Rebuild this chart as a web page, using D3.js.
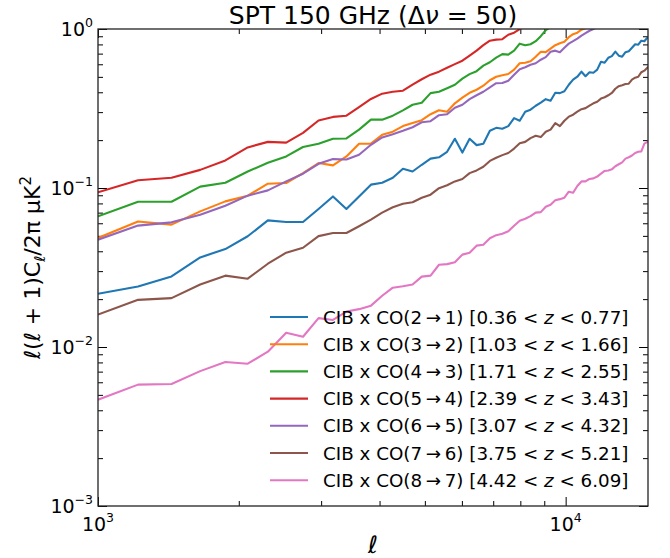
<!DOCTYPE html>
<html>
<head>
<meta charset="utf-8">
<script src="https://cdn.jsdelivr.net/npm/d3@7"></script>
<style>
  body { margin: 0; background: #fff; }
  svg text { font-family: "DejaVu Sans", sans-serif; fill: #000; }
</style>
</head>
<body>
<div id="chart"></div>
<script>
// multipole bins
const ell = [1000, 1218, 1436, 1654, 1872, 2090, 2308, 2526, 2744, 2962, 3180, 3398, 3616, 3834, 4052,
  4270, 4488, 4706, 4924, 5142, 5360, 5578, 5796, 6014, 6232, 6450, 6668, 6886, 7104, 7322, 7540,
  7758, 7976, 8194, 8412, 8630, 8848, 9066, 9284, 9502, 9720, 9938, 10156, 10374, 10592, 10810,
  11028, 11246, 11464, 11682, 11900, 12118, 12336, 12554, 12772, 12990, 13208, 13426, 13644,
  13862, 14080, 14298, 14516, 14734, 14952, 15170];

// l(l+1)C_l/2pi per CO line (curves that leave the top of the frame stop there)
const co21 = [0.0216, 0.0240, 0.0278, 0.0366, 0.0413, 0.0497, 0.0626, 0.0611, 0.0611, 0.0738, 0.0885, 0.0738, 0.0885, 0.105, 0.108,
  0.116, 0.132, 0.127, 0.140, 0.153, 0.156, 0.169, 0.204, 0.167, 0.204, 0.186, 0.190, 0.229, 0.239, 0.236, 0.245, 0.275, 0.265, 0.302,
  0.311, 0.329, 0.344, 0.362, 0.354, 0.397, 0.395, 0.406, 0.446, 0.480, 0.501, 0.539, 0.505, 0.535, 0.531, 0.555, 0.622, 0.614,
  0.659, 0.675, 0.720, 0.680, 0.670, 0.715, 0.725, 0.762, 0.802, 0.797, 0.844, 0.838, 0.881, 0.908];
const co32 = [0.0485, 0.0616, 0.0588, 0.0713, 0.0824, 0.0895, 0.1064, 0.1075, 0.124, 0.1436, 0.1387, 0.158, 0.190, 0.190, 0.216,
  0.226, 0.245, 0.256, 0.267, 0.291, 0.308, 0.302, 0.341, 0.370, 0.397, 0.415, 0.440, 0.476, 0.501, 0.512, 0.521, 0.555, 0.609,
  0.614, 0.627, 0.669, 0.720, 0.715, 0.752, 0.791, 0.814, 0.832, 0.888, 0.928, 0.948, 0.990, 1.01, 1.06];
const co43 = [0.0663, 0.082, 0.082, 0.102, 0.108, 0.127, 0.144, 0.158, 0.181, 0.190, 0.204, 0.205, 0.233, 0.269, 0.269,
  0.285, 0.308, 0.334, 0.344, 0.395, 0.403, 0.424, 0.446, 0.487, 0.520, 0.543, 0.588, 0.618, 0.660, 0.695, 0.690, 0.731, 0.809,
  0.791, 0.802, 0.838, 0.901, 0.982, 1.03];
const co54 = [0.094, 0.112, 0.116, 0.130, 0.149, 0.180, 0.195, 0.193, 0.222, 0.266, 0.280, 0.285, 0.323, 0.363, 0.392,
  0.403, 0.409, 0.447, 0.483, 0.516, 0.539, 0.571, 0.601, 0.632, 0.680, 0.731, 0.791, 0.844, 0.857, 0.863, 0.920, 0.948, 0.997, 1.05];
const co65 = [0.0473, 0.058, 0.0608, 0.0679, 0.0774, 0.0895, 0.0966, 0.110, 0.123, 0.142, 0.152, 0.151, 0.162, 0.187, 0.208,
  0.218, 0.229, 0.241, 0.259, 0.263, 0.287, 0.291, 0.320, 0.334, 0.362, 0.383, 0.403, 0.430, 0.456, 0.457, 0.473, 0.516, 0.559,
  0.575, 0.596, 0.609, 0.641, 0.665, 0.720, 0.731, 0.715, 0.762, 0.809, 0.838, 0.869, 0.908, 0.941, 0.975, 1.00, 1.03];
const co76 = [0.0160, 0.0198, 0.0203, 0.0247, 0.0281, 0.0269, 0.0334, 0.0392, 0.0421, 0.0498, 0.0521, 0.0521, 0.0575, 0.0632, 0.070,
  0.0757, 0.0796, 0.0814, 0.0869, 0.0908, 0.0998, 0.104, 0.110, 0.114, 0.124, 0.129, 0.136, 0.148, 0.155, 0.161, 0.166, 0.177,
  0.191, 0.195, 0.206, 0.213, 0.209, 0.226, 0.233, 0.256, 0.245, 0.265, 0.281, 0.289, 0.302, 0.313, 0.318, 0.330, 0.341, 0.349,
  0.365, 0.372, 0.383, 0.396, 0.421, 0.437, 0.443, 0.451, 0.453, 0.480, 0.494, 0.501, 0.535, 0.547, 0.571, 0.588];
const co87 = [0.00466, 0.0058, 0.00585, 0.00705, 0.00805, 0.00785, 0.00934, 0.0123, 0.0116, 0.0152, 0.0148, 0.0167, 0.0173, 0.0182, 0.0210,
  0.0236, 0.0241, 0.0247, 0.0277, 0.0281, 0.0329, 0.0332, 0.0341, 0.0381, 0.0392, 0.0434, 0.0440, 0.0483, 0.0505, 0.0516, 0.0535,
  0.0579, 0.0623, 0.0641, 0.0665, 0.0700, 0.0705, 0.0762, 0.0785, 0.0838, 0.0851, 0.0869, 0.0948, 0.0934, 0.103, 0.110, 0.110,
  0.114, 0.115, 0.118, 0.123, 0.128, 0.129, 0.131, 0.137, 0.141, 0.145, 0.153, 0.156, 0.160, 0.166, 0.169, 0.170, 0.190, 0.195, 0.201];

const seriesValues = [co21, co32, co43, co54, co65, co76, co87];
const transitions = ["2", "1", "3", "2", "4", "3", "5", "4", "6", "5", "7", "6", "8", "7"];
const zMin = ["0.36", "1.03", "1.71", "2.39", "3.07", "3.75", "4.42"];
const zMax = ["0.77", "1.66", "2.55", "3.43", "4.32", "5.21", "6.09"];
const colors = ["#1f77b4", "#ff7f0e", "#2ca02c", "#d62728", "#9467bd", "#8c564b", "#e377c2"];

const xMajor = [1e3, 1e4];
const xMinor = [2000, 3000, 4000, 5000, 6000, 7000, 8000, 9000];
const yMajor = [1e-3, 1e-2, 1e-1, 1];
const yExp = ["\u22123", "\u22122", "\u22121", "0"];
const xExp = ["3", "4"];

function drawChart() {
    const W = 670, H = 558, margin = {top: 29, right: 22, bottom: 52, left: 98};
    const innerW = W - margin.left - margin.right;
    const innerH = H - margin.top - margin.bottom;

    const svg = d3.select("#chart").append("svg").attr("width", W).attr("height", H);
    const g = svg.append("g").attr("transform", `translate(${margin.left},${margin.top})`);

    const x = d3.scaleLog().domain([1000, 15000]).range([0, innerW]);
    const y = d3.scaleLog().domain([1e-3, 1]).range([innerH, 0]);

    const yMinor = [];
    [1e-3, 1e-2, 1e-1].forEach(d => { for (let k = 2; k <= 9; k++) yMinor.push(d * k); });

    // ==== ticks, pointing inward on all four sides ====
    const tickAxis = (axis, sel) => sel.call(axis).call(s => s.select(".domain").remove())
        .call(s => s.selectAll("line").attr("stroke", "#000").attr("stroke-width", 1));

    [[xMajor, 9], [xMinor, 5]].forEach(([vals, len]) => {
        tickAxis(d3.axisBottom(x).tickValues(vals).tickSize(-len).tickFormat(""),
            g.append("g").attr("transform", `translate(0,${innerH})`));
        tickAxis(d3.axisTop(x).tickValues(vals).tickSize(-len).tickFormat(""), g.append("g"));
    });
    [[yMajor, 9], [yMinor, 5]].forEach(([vals, len]) => {
        tickAxis(d3.axisLeft(y).tickValues(vals).tickSize(-len).tickFormat(""), g.append("g"));
        tickAxis(d3.axisRight(y).tickValues(vals).tickSize(-len).tickFormat(""),
            g.append("g").attr("transform", `translate(${innerW},0)`));
    });

    // tick labels with superscripts
    yMajor.forEach((v, i) => {
        const t = g.append("text").attr("x", -5).attr("y", y(v) + 7)
            .attr("text-anchor", "end").style("font-size", "19px");
        t.append("tspan").text("10");
        t.append("tspan").attr("dy", -9).style("font-size", "12.5px").text(yExp[i]);
    });
    xMajor.forEach((v, i) => {
        const t = g.append("text").attr("x", x(v)).attr("y", innerH + 25)
            .attr("text-anchor", "middle").style("font-size", "19px");
        t.append("tspan").text("10");
        t.append("tspan").attr("dy", -9).style("font-size", "12.5px").text(xExp[i]);
    });

    // ==== curves ====
    g.append("clipPath").attr("id", "plot-clip")
        .append("rect").attr("width", innerW).attr("height", innerH);

    const line = d3.line().x(d => x(d[0])).y(d => y(d[1]));
    seriesValues.forEach((vals, i) => {
        g.append("path")
            .datum(vals.map((v, j) => [ell[j], v]))
            .attr("clip-path", "url(#plot-clip)")
            .attr("fill", "none")
            .attr("stroke", colors[i])
            .attr("stroke-width", 2.1)
            .attr("stroke-linejoin", "round")
            .attr("d", line);
    });

    // frame
    g.append("rect").attr("width", innerW).attr("height", innerH)
        .attr("fill", "none").attr("stroke", "#222").attr("stroke-width", 1.3);

    // ==== legend ====
    const leg = g.append("g").attr("transform", `translate(${270 - margin.left},${317 - margin.top})`);
    seriesValues.forEach((_, i) => {
        const row = leg.append("g").attr("transform", `translate(0,${i * 27.2})`);
        row.append("line").attr("x1", 0).attr("x2", 38)
            .attr("stroke", colors[i]).attr("stroke-width", 2.1);
        const t = row.append("text").attr("x", 53).attr("y", 6.5).style("font-size", "18.3px");
        t.append("tspan").text(`CIB x CO(${transitions[2 * i]}\u2009\u2192\u2009${transitions[2 * i + 1]}) [${zMin[i]} < `);
        t.append("tspan").style("font-style", "italic").text("z");
        t.append("tspan").text(` < ${zMax[i]}]`);
    });

    // ==== title and axis labels ====
    const title = svg.append("text").attr("x", margin.left + innerW / 2).attr("y", 24)
        .attr("text-anchor", "middle").style("font-size", "25px");
    title.append("tspan").text("SPT 150 GHz (\u0394");
    title.append("tspan").style("font-style", "italic").text("\u03bd");
    title.append("tspan").text(" = 50)");

    svg.append("text").attr("x", margin.left + innerW / 2).attr("y", 553)
        .attr("text-anchor", "middle").style("font-size", "24px").style("font-style", "italic")
        .text("\u2113");

    const yl = svg.append("text")
        .attr("transform", `translate(40,${margin.top + innerH / 2}) rotate(-90)`)
        .attr("text-anchor", "middle").style("font-size", "22px");
    yl.append("tspan").style("font-style", "italic").text("\u2113");
    yl.append("tspan").text("(");
    yl.append("tspan").style("font-style", "italic").text("\u2113");
    yl.append("tspan").text(" + 1)C");
    yl.append("tspan").attr("dy", 4.5).style("font-size", "15px").style("font-style", "italic").text("\u2113");
    yl.append("tspan").attr("dy", -4.5).text("/2\u03c0 \u03bcK");
    yl.append("tspan").attr("dy", -9).style("font-size", "15px").text("2");
}

drawChart();
</script>
</body>
</html>
